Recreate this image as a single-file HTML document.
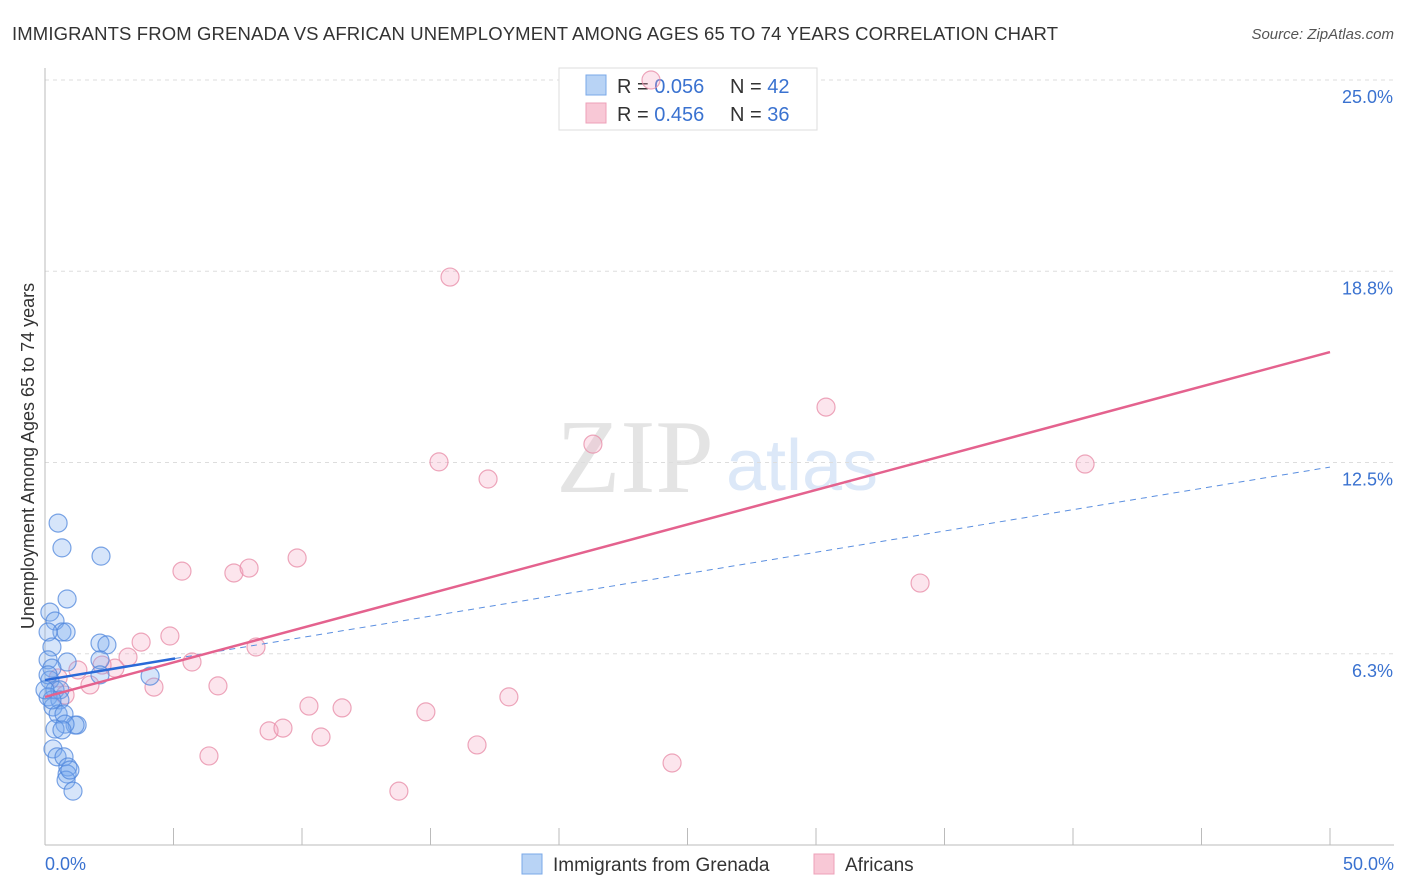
<!DOCTYPE html>
<html><head><meta charset="utf-8"><style>
body{margin:0;background:#fff;font-family:"Liberation Sans",sans-serif;}
#c{position:relative;width:1406px;height:892px;overflow:hidden;}
</style></head><body>
<div id="c">
<svg id="s" width="1406" height="892" xmlns="http://www.w3.org/2000/svg">
<text x="12" y="40" font-size="18.5" fill="#333" textLength="1046">IMMIGRANTS FROM GRENADA VS AFRICAN UNEMPLOYMENT AMONG AGES 65 TO 74 YEARS CORRELATION CHART</text>
<text x="1394" y="39" font-size="15" fill="#555" font-style="italic" text-anchor="end">Source: ZipAtlas.com</text>
<text x="635" y="492" font-size="105" fill="#e4e4e4" font-family="Liberation Serif, serif" text-anchor="middle">ZIP</text>
<text x="802" y="490" font-size="72" fill="#dce8f8" text-anchor="middle">atlas</text>
<g id="grid"></g><g id="axes"></g>
<g>
<rect x="559" y="68" width="258" height="62" fill="#fff" stroke="#ddd"/>
<rect x="586" y="75" width="20" height="20" fill="#b8d3f5" stroke="#7aa8e8"/>
<rect x="586" y="103" width="20" height="20" fill="#f8c8d6" stroke="#eea0b8"/>
<text x="617" y="93" font-size="20" fill="#333">R = <tspan fill="#3a72d0">0.056</tspan></text>
<text x="730" y="93" font-size="20" fill="#333">N = <tspan fill="#3a72d0">42</tspan></text>
<text x="617" y="121" font-size="20" fill="#333">R = <tspan fill="#3a72d0">0.456</tspan></text>
<text x="730" y="121" font-size="20" fill="#333">N = <tspan fill="#3a72d0">36</tspan></text>
</g>
<g id="pts"></g><g id="lines"></g>
<text transform="translate(34,456) rotate(-90)" font-size="18" fill="#333" text-anchor="middle">Unemployment Among Ages 65 to 74 years</text>
<text x="45" y="870" font-size="18" fill="#3a72d0">0.0%</text>
<text x="1394" y="870" font-size="18" fill="#3a72d0" text-anchor="end">50.0%</text>
<g>
<rect x="522" y="854" width="20" height="20" fill="#b8d3f5" stroke="#7aa8e8"/>
<text x="553" y="871" font-size="19" fill="#333">Immigrants from Grenada</text>
<rect x="814" y="854" width="20" height="20" fill="#f8c8d6" stroke="#eea0b8"/>
<text x="845" y="871" font-size="19" fill="#333">Africans</text>
</g>
</svg></div>
<script>
const yTicks=[6.25,12.5,18.75,25];
const yTickLabels=["6.3%","12.5%","18.8%","25.0%"];
const blueX=[0.51,0.66,2.18,0.86,0.19,0.39,0.66,0.82,0.12,0.27,0.12,0.86,0.27,2.14,2.41,2.14,0.19,0.39,0.58,0.12,0.58,0.31,0.51,0.74,1.25,1.17,0.78,0.39,0.31,0.47,0.74,0.89,0.86,0.82,1.09,4.09,2.14,0.12,0.27,0.66,0.97,0];
const blueY=[10.52,9.71,9.44,8.04,7.61,7.32,6.96,6.96,6.96,6.47,6.05,5.98,5.78,6.60,6.54,6.05,5.39,5.07,5.07,4.84,4.74,4.51,4.28,4.28,3.92,3.92,3.95,3.79,3.14,2.88,2.88,2.55,2.32,2.12,1.76,5.52,5.56,5.56,4.74,3.76,2.45,5.07];
const pinkX=[23.58,15.76,30.39,21.32,15.33,40.47,17.24,5.33,7.35,7.94,9.81,34.05,4.86,3.74,8.21,5.72,3.23,2.72,2.22,1.28,1.75,4.24,6.73,0.78,0.51,10.27,11.56,14.82,18.05,8.72,9.26,10.74,16.81,6.38,24.4,13.77];
const pinkY=[25.0,18.56,14.31,13.10,12.52,12.45,11.96,8.95,8.89,9.05,9.38,8.56,6.83,6.63,6.47,5.98,6.14,5.78,5.88,5.72,5.23,5.16,5.20,4.90,5.46,4.54,4.48,4.35,4.84,3.73,3.82,3.53,3.27,2.91,2.68,1.76];
const blueTrend=[5.39,12.35];
const pinkTrend=[4.84,16.11];
const NS="http://www.w3.org/2000/svg";
const X=v=>45+v*25.7, Y=v=>845-v*30.6;
function mk(t,a,p){const e=document.createElementNS(NS,t);for(const k in a)e.setAttribute(k,a[k]);p.appendChild(e);return e;}
const grid=document.getElementById('grid'),axes=document.getElementById('axes'),pts=document.getElementById('pts'),lines=document.getElementById('lines');
yTicks.forEach((t,i)=>{
 const l=mk('line',{x1:45,x2:1394,y1:Y(t),y2:Y(t),stroke:'#ddd','stroke-dasharray':'4,4'},grid);
 
 
 const tx=mk('text',{x:1393,y:Y(t)+23,'font-size':18,fill:'#3a72d0','text-anchor':'end'},grid);
 tx.textContent=yTickLabels[i];
 
 
});
const ax=mk('line',{x1:45,x2:1394,y1:845,y2:845,stroke:'#bbb'},axes);


const ay=mk('line',{x1:45,x2:45,y1:68,y2:845,stroke:'#bbb'},axes);


for(let i=0;i<=10;i++){const t=mk('line',{x1:X(i*5),x2:X(i*5),y1:828,y2:845,stroke:'#bbb'},axes);
 
 }
pinkX.forEach((v,i)=>{const c=mk('circle',{cx:X(v),cy:Y(pinkY[i]),r:9,fill:'rgba(246,170,195,0.3)',stroke:'rgba(232,144,170,0.8)','stroke-width':1.2},pts);
 
 });
blueX.forEach((v,i)=>{const c=mk('circle',{cx:X(v),cy:Y(blueY[i]),r:9,fill:'rgba(120,170,240,0.3)',stroke:'rgba(80,135,220,0.75)','stroke-width':1.2},pts);
 
 });
const bAt=x=>blueTrend[0]+(blueTrend[1]-blueTrend[0])*x/50;
const bd=mk('line',{x1:X(5.06),y1:Y(bAt(5.06)),x2:X(50),y2:Y(bAt(50)),stroke:'#5b8fe0','stroke-width':1,'stroke-dasharray':'6,5'},lines);


const pl=mk('line',{x1:X(0),y1:Y(pinkTrend[0]),x2:X(50),y2:Y(pinkTrend[1]),stroke:'#e4628e','stroke-width':2.5},lines);


const bl=mk('line',{x1:X(0),y1:Y(bAt(0)),x2:X(5.06),y2:Y(bAt(5.06)),stroke:'#2a6ad8','stroke-width':2.5},lines);


</script>
</body></html>
